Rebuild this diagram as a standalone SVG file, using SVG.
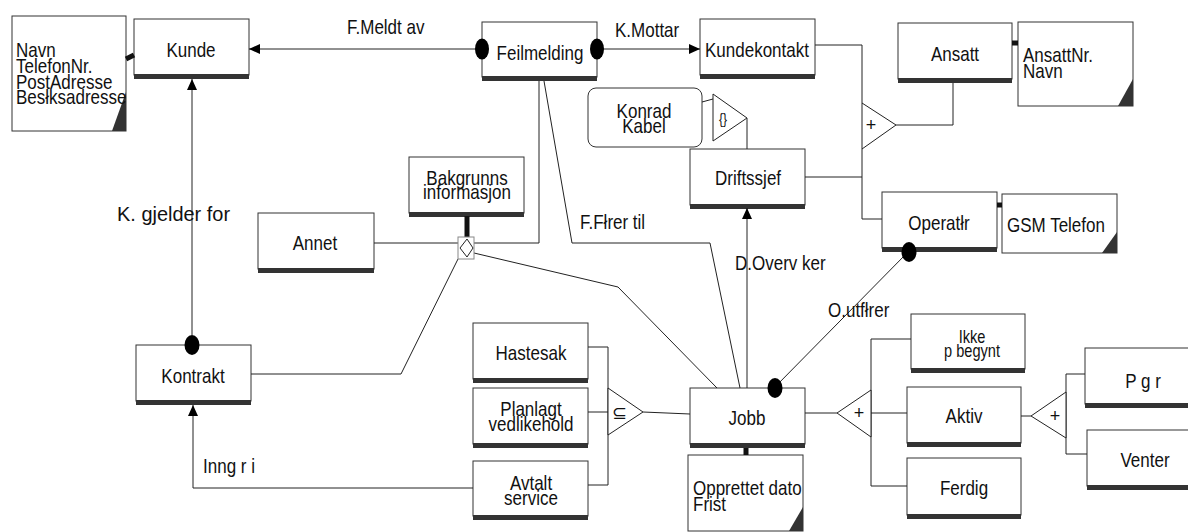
<svg xmlns="http://www.w3.org/2000/svg" width="1188" height="532" viewBox="0 0 1188 532">
  <style>
    .box { fill: #fff; stroke: #333; stroke-width: 1; }
    .bar { fill: #333; }
    .attr { fill: #fff; stroke: #333; stroke-width: 1; }
    .corner { fill: #333; }
    .rnd { fill: #fff; stroke: #333; stroke-width: 1; }
    text { font-family: "Liberation Sans", Arial, sans-serif; font-size: 21px; fill: #111; }
    .c { text-anchor: middle; }
    .s { font-size: 18px; }
    .sym { font-size: 18px; text-anchor: middle; }
    .ln { fill: none; stroke: #222; stroke-width: 1; }
    .thick { fill: none; stroke: #111; stroke-width: 5; }
    .tri { fill: #fff; stroke: #222; stroke-width: 1; }
    .dot { fill: #000; }
  </style>
  <defs>
    <marker id="arr" viewBox="0 0 11 10" refX="11" refY="5" markerWidth="11" markerHeight="10" markerUnits="userSpaceOnUse" orient="auto">
      <path d="M0,0 L11,5 L0,10 z" fill="#000"/>
    </marker>
  </defs>
  <rect width="1188" height="532" fill="#fff"/>

  <!-- entity boxes -->
  <g id="kunde">
    <rect class="box" x="134" y="19" width="115" height="56"/>
    <rect class="bar" x="134" y="74" width="115" height="5"/>
    <text class="c" transform="translate(191 57) scale(.81 1)">Kunde</text>
  </g>
  <g id="kunde-attr">
    <rect class="attr" x="12" y="16" width="114" height="115"/>
    <polygon class="corner" points="112,131 126,131 126,92"/>
    <text transform="translate(16 57) scale(.81 1)">Navn</text>
    <text transform="translate(16 72.5) scale(.81 1)">TelefonNr.</text>
    <text transform="translate(16 88.5) scale(.81 1)">PostAdresse</text>
    <text transform="translate(16 104) scale(.81 1)">Besłksadresse</text>
  </g>
  <g id="feilmelding">
    <rect class="box" x="482" y="22" width="115" height="55"/>
    <rect class="bar" x="482" y="76" width="115" height="5"/>
    <text class="c" transform="translate(540 60) scale(.81 1)">Feilmelding</text>
  </g>
  <g id="kundekontakt">
    <rect class="box" x="700" y="19" width="115" height="56"/>
    <rect class="bar" x="700" y="74" width="115" height="5"/>
    <text class="c" transform="translate(757 57) scale(.81 1)">Kundekontakt</text>
  </g>
  <g id="ansatt">
    <rect class="box" x="898" y="23" width="114" height="56"/>
    <rect class="bar" x="898" y="78" width="114" height="5"/>
    <text class="c" transform="translate(955 61) scale(.81 1)">Ansatt</text>
  </g>
  <g id="ansatt-attr">
    <rect class="attr" x="1018" y="22" width="115" height="84"/>
    <polygon class="corner" points="1118,106 1133,106 1133,79"/>
    <text transform="translate(1023 62) scale(.81 1)">AnsattNr.</text>
    <text transform="translate(1023 78) scale(.81 1)">Navn</text>
  </g>
  <g id="konrad-kabel">
    <rect class="rnd" x="588" y="88" width="114" height="59" rx="8"/>
    <text class="c" transform="translate(644 118) scale(.81 1)">Konrad</text>
    <text class="c" transform="translate(644 133) scale(.81 1)">Kabel</text>
  </g>
  <g id="driftssjef">
    <rect class="box" x="690" y="149" width="115" height="56"/>
    <rect class="bar" x="690" y="204" width="115" height="5"/>
    <text class="c" transform="translate(748 185) scale(.81 1)">Driftssjef</text>
  </g>
  <g id="operator">
    <rect class="box" x="882" y="192" width="115" height="56"/>
    <rect class="bar" x="882" y="247" width="115" height="5"/>
    <text class="c" transform="translate(939 230) scale(.81 1)">Operatłr</text>
  </g>
  <g id="gsm-telefon">
    <rect class="attr" x="1002" y="194" width="115" height="59"/>
    <polygon class="corner" points="1102,253 1117,253 1117,232"/>
    <text transform="translate(1007 232) scale(.81 1)">GSM Telefon</text>
  </g>
  <g id="bakgrunnsinformasjon">
    <rect class="box" x="409" y="157" width="115" height="56"/>
    <rect class="bar" x="409" y="212" width="115" height="5"/>
    <text class="c" transform="translate(467 185) scale(.81 1)">Bakgrunns</text>
    <text class="c" transform="translate(467 199) scale(.81 1)">informasjon</text>
  </g>
  <g id="annet">
    <rect class="box" x="258" y="213" width="116" height="56"/>
    <rect class="bar" x="258" y="268" width="116" height="5"/>
    <text class="c" transform="translate(315 250) scale(.81 1)">Annet</text>
  </g>
  <g id="kontrakt">
    <rect class="box" x="136" y="345" width="115" height="56"/>
    <rect class="bar" x="136" y="400" width="115" height="5"/>
    <text class="c" transform="translate(193 383) scale(.81 1)">Kontrakt</text>
  </g>
  <g id="hastesak">
    <rect class="box" x="473" y="323" width="115" height="56"/>
    <rect class="bar" x="473" y="378" width="115" height="5"/>
    <text class="c" transform="translate(531 360) scale(.81 1)">Hastesak</text>
  </g>
  <g id="planlagt-vedlikehold">
    <rect class="box" x="473" y="388" width="115" height="56"/>
    <rect class="bar" x="473" y="443" width="115" height="5"/>
    <text class="c" transform="translate(531 416) scale(.81 1)">Planlagt</text>
    <text class="c" transform="translate(531 431) scale(.81 1)">vedlikehold</text>
  </g>
  <g id="avtalt-service">
    <rect class="box" x="473" y="461" width="115" height="55"/>
    <rect class="bar" x="473" y="515" width="115" height="5"/>
    <text class="c" transform="translate(531 490) scale(.81 1)">Avtalt</text>
    <text class="c" transform="translate(531 505) scale(.81 1)">service</text>
  </g>
  <g id="jobb">
    <rect class="box" x="690" y="388" width="115" height="56"/>
    <rect class="bar" x="690" y="443" width="115" height="5"/>
    <text class="c" transform="translate(747 425) scale(.81 1)">Jobb</text>
  </g>
  <g id="jobb-attr">
    <rect class="attr" x="688" y="455" width="115" height="76"/>
    <polygon class="corner" points="789,531 803,531 803,507"/>
    <text transform="translate(693 495) scale(.81 1)">Opprettet dato</text>
    <text transform="translate(693 511) scale(.81 1)">Frist</text>
  </g>
  <g id="ikke-paabegynt">
    <rect class="box" x="911" y="314" width="114" height="55"/>
    <rect class="bar" x="911" y="368" width="114" height="5"/>
    <text class="c s" transform="translate(972 343) scale(.81 1)">Ikke</text>
    <text class="c s" transform="translate(972 357) scale(.81 1)">p begynt</text>
  </g>
  <g id="aktiv">
    <rect class="box" x="907" y="387" width="114" height="56"/>
    <rect class="bar" x="907" y="442" width="114" height="5"/>
    <text class="c" transform="translate(964 423) scale(.81 1)">Aktiv</text>
  </g>
  <g id="ferdig">
    <rect class="box" x="907" y="458" width="114" height="57"/>
    <rect class="bar" x="907" y="514" width="114" height="5"/>
    <text class="c" transform="translate(964 495) scale(.81 1)">Ferdig</text>
  </g>
  <g id="paagaar">
    <rect class="box" x="1085" y="348" width="115" height="56"/>
    <rect class="bar" x="1085" y="403" width="115" height="5"/>
    <text class="c" transform="translate(1143 388) scale(.81 1)">P g r</text>
  </g>
  <g id="venter">
    <rect class="box" x="1087" y="430" width="115" height="56"/>
    <rect class="bar" x="1087" y="485" width="115" height="5"/>
    <text class="c" transform="translate(1145 467) scale(.81 1)">Venter</text>
  </g>

  <!-- relationships, subtype trees and attribute links -->
  <g id="connectors">
    <!-- attribute links -->
    <path class="thick" d="M126,59 L134,55" stroke-width="4"/>
    <path class="thick" d="M1012,43 H1018"/>
    <path class="thick" d="M997,205 H1002"/>
    <path class="thick" d="M746,448 V455"/>

    <!-- F.Meldt av -->
    <path class="ln" d="M482,49 H249" marker-end="url(#arr)"/>
    <text transform="translate(347 34) scale(.81 1)">F.Meldt av</text>
    <!-- K.Mottar -->
    <path class="ln" d="M597,49 H700" marker-end="url(#arr)"/>
    <text transform="translate(615 37) scale(.81 1)">K.Mottar</text>
    <ellipse class="dot" cx="482" cy="49" rx="7" ry="10.5"/>
    <ellipse class="dot" cx="597" cy="49" rx="7" ry="10.5"/>

    <!-- Ansatt subtypes -->
    <path class="ln" d="M815,45 H862 V103"/>
    <path class="ln" d="M896,125 H953 V83"/>
    <path class="ln" d="M862,149 V219 H882"/>
    <path class="ln" d="M805,177 H862"/>
    <polygon class="tri" points="862,103 862,149 896,125"/>
    <text class="sym" x="871" y="131">+</text>

    <!-- Konrad Kabel instance of Driftssjef -->
    <path class="ln" d="M702,102 L713,99"/>
    <path class="ln" d="M747,118 V149"/>
    <polygon class="tri" points="713,94 713,141 747,118"/>
    <text class="c" style="font-size:15px" transform="translate(723 124) scale(.8 1)">{}</text>

    <!-- D.Overvåker -->
    <path class="ln" d="M747,388 V208" marker-end="url(#arr)"/>
    <text transform="translate(735 270) scale(.81 1)">D.Overv ker</text>

    <!-- F.Fører til -->
    <path class="ln" d="M544,81 L572,243 H710 L740,388"/>
    <text transform="translate(580 229) scale(.81 1)">F.Fłrer til</text>

    <!-- Bakgrunnsinformasjon association -->
    <path class="ln" d="M539,81 V243 H474"/>
    <path class="ln" d="M374,243 H458"/>
    <path class="ln" d="M474,253 L618,287 L717,388"/>
    <path class="ln" d="M251,374 H401 L458,259"/>
    <path class="thick" d="M467,216 V237"/>
    <rect x="458" y="237" width="16" height="22" fill="#fff" stroke="#888" stroke-width="1"/>
    <polygon points="467,239 473,248 467,257 460,248" fill="#fff" stroke="#222" stroke-width="1"/>

    <!-- K. gjelder for -->
    <path class="ln" d="M192,335 V79" marker-end="url(#arr)"/>
    <ellipse class="dot" cx="192" cy="345" rx="7.5" ry="10"/>
    <text transform="translate(117 221) scale(.95 1)">K. gjelder for</text>

    <!-- Inngår i -->
    <path class="ln" d="M473,488 H193 V405" marker-end="url(#arr)"/>
    <text transform="translate(203 473) scale(.81 1)">Inng r i</text>

    <!-- Jobb subsets -->
    <path class="ln" d="M588,347 H608 V485 H588"/>
    <path class="ln" d="M588,412 H608"/>
    <path class="ln" d="M643,412 L690,414"/>
    <polygon class="tri" points="608,388 608,435 643,412"/>
    <text class="c" style="font-size:18px" x="619" y="419">⊆</text>

    <!-- O.utfører -->
    <path class="ln" d="M909,251 L774,388"/>
    <ellipse class="dot" cx="909" cy="252" rx="7.5" ry="10"/>
    <ellipse class="dot" cx="775" cy="388" rx="7.5" ry="10"/>
    <text transform="translate(828 317) scale(.81 1)">O.utfłrer</text>

    <!-- Jobb status subtypes -->
    <path class="ln" d="M805,413 H837"/>
    <path class="ln" d="M911,339 H871 V486 H907"/>
    <path class="ln" d="M871,413 H907"/>
    <polygon class="tri" points="837,413 871,390 871,437"/>
    <text class="sym" x="859" y="419">+</text>

    <!-- Aktiv subtypes -->
    <path class="ln" d="M1021,416 H1031"/>
    <path class="ln" d="M1085,374 H1066 V454 H1087"/>
    <polygon class="tri" points="1031,416 1066,392 1066,438"/>
    <text class="sym" x="1055" y="422">+</text>
  </g>
</svg>
